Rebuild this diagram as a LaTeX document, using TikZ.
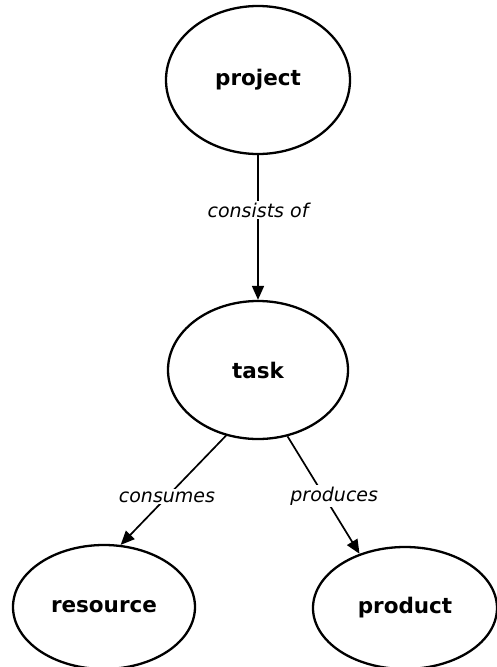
\documentclass[tikz,border=0pt]{standalone}
\usepackage{fontspec}
\setmainfont{DejaVu Sans}
\usetikzlibrary{arrows.meta,shapes.geometric}
\begin{document}
\begin{tikzpicture}[x=1pt,y=-1pt,
  entity/.style={draw, line width=2.3pt, ellipse, inner sep=0pt, font=\fontsize{21.5}{25}\selectfont\bfseries},
  relarrow/.style={line width=1.7pt, -{Triangle[length=14pt,width=12pt]}},
  rellabel/.style={fill=white, inner sep=2pt, font=\fontsize{19}{22}\selectfont\itshape}]
\useasboundingbox (0,0) rectangle (497,667);
% entity ellipses
\node[entity, minimum width=184pt, minimum height=148pt] (project) at (258,80) {project};
\node[entity, minimum width=180pt, minimum height=138pt] (task) at (258,370) {task};
\node[entity, minimum width=182pt, minimum height=124pt] (resource) at (104,607) {resource};
\node[entity, minimum width=184pt, minimum height=122pt] (product) at (405,608) {product};
% relationships
\draw[relarrow] (project.south) -- node[rellabel, pos=0.38] {consists of} (task.north);
\draw[relarrow] (task.-116) -- node[rellabel, pos=0.56] {consumes} (resource.75);
\draw[relarrow] (task.-66) -- node[rellabel, pos=0.51, xshift=10pt] {produces} (product.130);
\end{tikzpicture}
\end{document}
